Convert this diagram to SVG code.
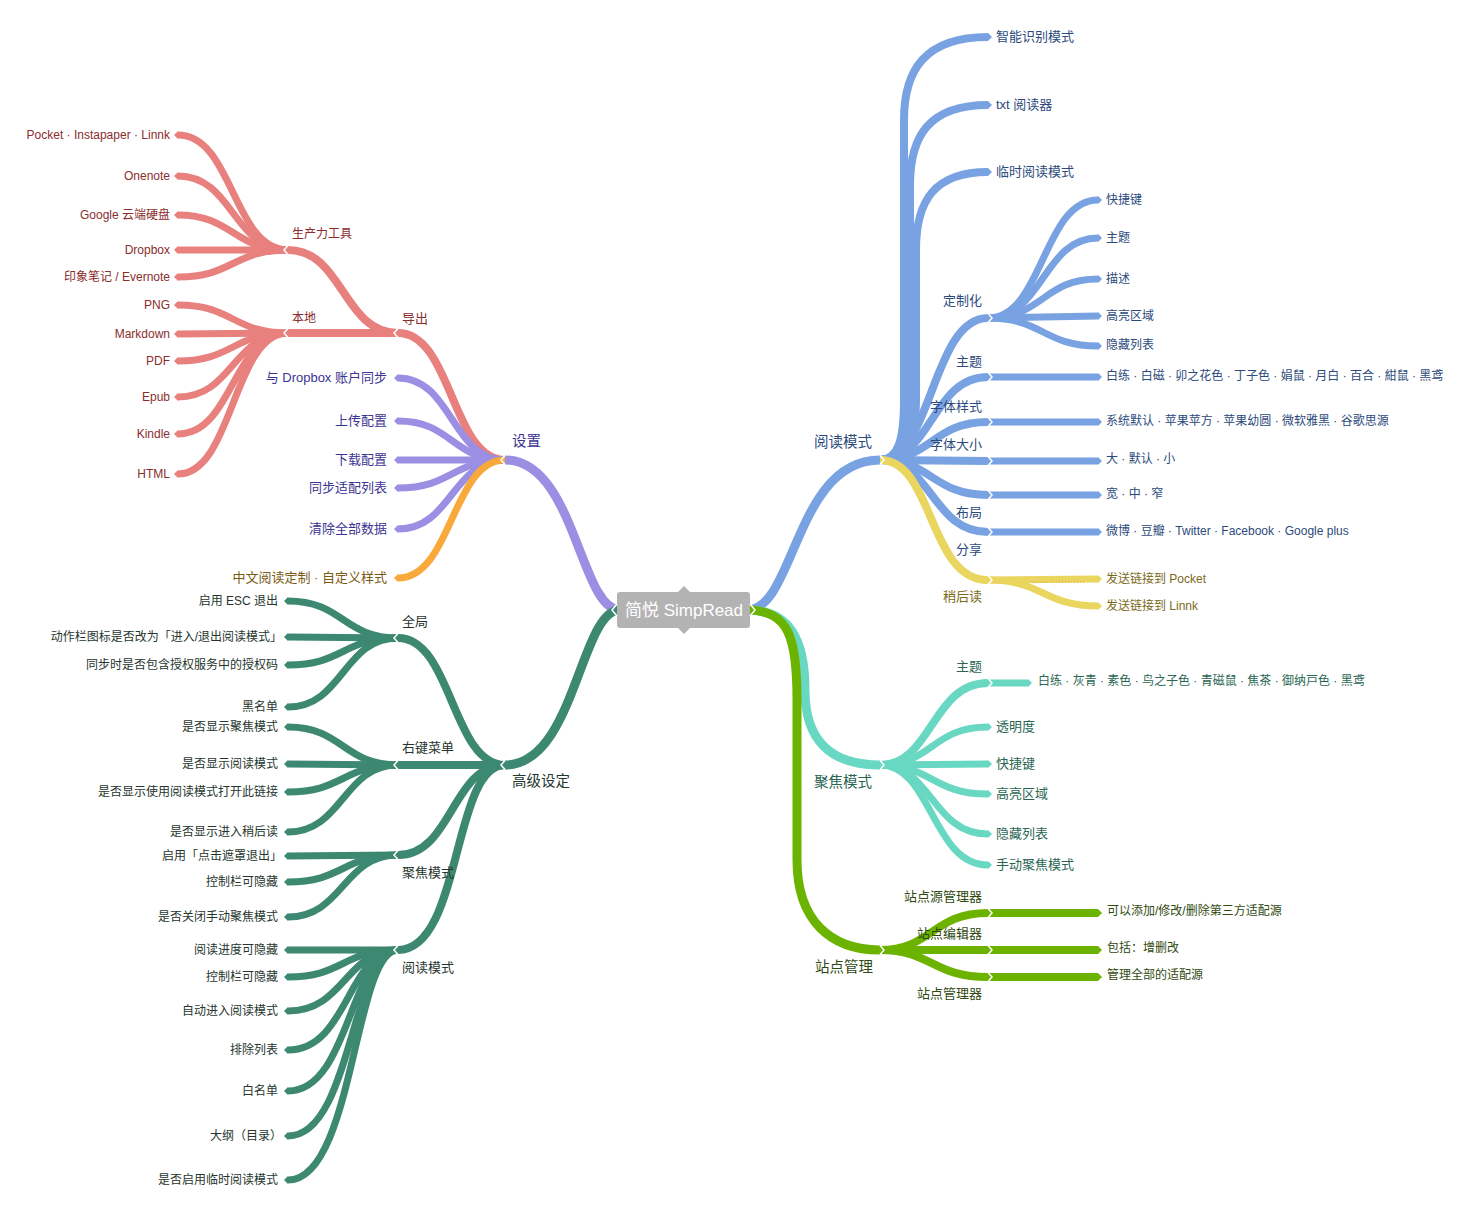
<svg xmlns="http://www.w3.org/2000/svg" width="1470" height="1221" viewBox="0 0 1470 1221">
<style>
text{font-family:"Liberation Sans","Noto Sans CJK SC",sans-serif;}
.e{fill:none;stroke-linecap:butt;stroke-linejoin:round}
.w9{stroke-width:9}.w8{stroke-width:8}.w7{stroke-width:7}
.rd{stroke:#e8807e;marker-end:url(#m-rd)}
.pu{stroke:#9a8fe3;marker-end:url(#m-pu)}
.or{stroke:#f9a83a;marker-end:url(#m-or)}
.gr{stroke:#3d8870;marker-end:url(#m-gr)}
.bl{stroke:#78a2e2;marker-end:url(#m-bl)}
.ye{stroke:#ead55f;marker-end:url(#m-ye)}
.te{stroke:#68d8c2;marker-end:url(#m-te)}
.li{stroke:#6cb300;marker-end:url(#m-li)}
.chev{fill:none;stroke:#fff;stroke-width:1.5}
.t12{font-size:12px}.t13{font-size:13px}.t14{font-size:14.5px}
.end{text-anchor:end}
.crd{fill:#8a2d2d}.cpu{fill:#3b3592}.cor{fill:#7a5a12}.cgr{fill:#26362e}
.cbl{fill:#2c4a7c}.cye{fill:#7a6a20}.cte{fill:#2a6652}.cli{fill:#2f4a10}
</style>
<defs>
<marker id="m-rd" viewBox="0 0 4 8" refX="0" refY="4" markerWidth="4" markerHeight="8" markerUnits="userSpaceOnUse" orient="auto"><path d="M0,0L4,4L0,8Z" fill="#e8807e"/></marker>
<marker id="m-pu" viewBox="0 0 4 8" refX="0" refY="4" markerWidth="4" markerHeight="8" markerUnits="userSpaceOnUse" orient="auto"><path d="M0,0L4,4L0,8Z" fill="#9a8fe3"/></marker>
<marker id="m-or" viewBox="0 0 4 8" refX="0" refY="4" markerWidth="4" markerHeight="8" markerUnits="userSpaceOnUse" orient="auto"><path d="M0,0L4,4L0,8Z" fill="#f9a83a"/></marker>
<marker id="m-gr" viewBox="0 0 4 8" refX="0" refY="4" markerWidth="4" markerHeight="8" markerUnits="userSpaceOnUse" orient="auto"><path d="M0,0L4,4L0,8Z" fill="#3d8870"/></marker>
<marker id="m-bl" viewBox="0 0 4 8" refX="0" refY="4" markerWidth="4" markerHeight="8" markerUnits="userSpaceOnUse" orient="auto"><path d="M0,0L4,4L0,8Z" fill="#78a2e2"/></marker>
<marker id="m-ye" viewBox="0 0 4 8" refX="0" refY="4" markerWidth="4" markerHeight="8" markerUnits="userSpaceOnUse" orient="auto"><path d="M0,0L4,4L0,8Z" fill="#ead55f"/></marker>
<marker id="m-te" viewBox="0 0 4 8" refX="0" refY="4" markerWidth="4" markerHeight="8" markerUnits="userSpaceOnUse" orient="auto"><path d="M0,0L4,4L0,8Z" fill="#68d8c2"/></marker>
<marker id="m-li" viewBox="0 0 4 8" refX="0" refY="4" markerWidth="4" markerHeight="8" markerUnits="userSpaceOnUse" orient="auto"><path d="M0,0L4,4L0,8Z" fill="#6cb300"/></marker>
</defs>
<rect width="1470" height="1221" fill="#fff"/>
<g id="connectors">
<!-- settings -->
<path class="e pu w9" d="M620,610 C580,610 575,460 505,460"/>
<path class="e rd w8" d="M505,460 C452,460 452,333 398,333"/>
<path class="e pu w7" d="M505,460 C452,460 452,378 398,378"/>
<path class="e pu w7" d="M505,460 C452,460 452,421 398,421"/>
<path class="e pu w7" d="M505,460 L398,460"/>
<path class="e pu w7" d="M505,460 C452,460 452,488 398,488"/>
<path class="e pu w7" d="M505,460 C452,460 452,529 398,529"/>
<path class="e or w7" d="M505,460 C452,460 452,578 398,578"/>
<path class="e rd w8" d="M398,333 C343,333 343,250 288,250"/>
<path class="e rd w8" d="M398,333 L288,333"/>
<path class="e rd w7" d="M288,250 C233,250 233,135 178,135"/>
<path class="e rd w7" d="M288,250 C233,250 233,176 178,176"/>
<path class="e rd w7" d="M288,250 C233,250 233,215 178,215"/>
<path class="e rd w7" d="M288,250 L178,250"/>
<path class="e rd w7" d="M288,250 C233,250 233,277 178,277"/>
<path class="e rd w7" d="M288,333 C233,333 233,305 178,305"/>
<path class="e rd w7" d="M288,333 L178,334"/>
<path class="e rd w7" d="M288,333 C233,333 233,361 178,361"/>
<path class="e rd w7" d="M288,333 C233,333 233,397 178,397"/>
<path class="e rd w7" d="M288,333 C233,333 233,434 178,434"/>
<path class="e rd w7" d="M288,333 C233,333 233,474 178,474"/>
<!-- advanced -->
<path class="e gr w9" d="M620,610 C580,610 575,765 505,765"/>
<path class="e gr w8" d="M505,765 C452,765 452,638 398,638"/>
<path class="e gr w8" d="M505,765 L398,765"/>
<path class="e gr w8" d="M505,765 C452,765 452,855 398,855"/>
<path class="e gr w8" d="M505,765 C452,765 462,950 398,950"/>
<path class="e gr w7" d="M398,638 C343,638 343,601 288,601"/>
<path class="e gr w7" d="M398,638 L288,637"/>
<path class="e gr w7" d="M398,638 C343,638 343,665 288,665"/>
<path class="e gr w7" d="M398,638 C343,638 343,707 288,707"/>
<path class="e gr w7" d="M398,765 C343,765 343,727 288,727"/>
<path class="e gr w7" d="M398,765 L288,764"/>
<path class="e gr w7" d="M398,765 C343,765 343,792 288,792"/>
<path class="e gr w7" d="M398,765 C343,765 343,832 288,832"/>
<path class="e gr w7" d="M398,855 L288,856"/>
<path class="e gr w7" d="M398,855 C343,855 343,882 288,882"/>
<path class="e gr w7" d="M398,855 C343,855 343,917 288,917"/>
<path class="e gr w7" d="M398,950 L288,950"/>
<path class="e gr w7" d="M398,950 C343,950 343,977 288,977"/>
<path class="e gr w7" d="M398,950 C345,950 345,1011 288,1011"/>
<path class="e gr w7" d="M398,950 C348,950 348,1050 288,1050"/>
<path class="e gr w7" d="M398,950 C350,950 350,1091 288,1091"/>
<path class="e gr w7" d="M398,950 C352,950 352,1136 288,1136"/>
<path class="e gr w7" d="M398,950 C354,950 354,1180 288,1180"/>
<!-- reading mode -->
<path class="e bl w9" d="M747,610 C795,610 795,460 880,460"/>
<path class="e bl w8" d="M880,460 C898,460 904,440 904,400 L904,120 C904,70 925,37 988,37"/>
<path class="e bl w8" d="M880,460 C900,460 910,440 910,400 L910,185 C910,135 930,105 988,105"/>
<path class="e bl w8" d="M880,460 C902,460 916,440 916,400 L916,250 C916,200 935,172 988,172"/>
<path class="e bl w8" d="M880,460 C932,460 932,318 988,318"/>
<path class="e bl w8" d="M880,460 C932,460 932,377 988,377"/>
<path class="e bl w8" d="M880,460 C932,460 932,422 988,422"/>
<path class="e bl w8" d="M880,460 L988,461"/>
<path class="e bl w8" d="M880,460 C932,460 932,495 988,495"/>
<path class="e bl w8" d="M880,460 C932,460 932,532 988,532"/>
<path class="e ye w8" d="M880,460 C934,460 928,580 988,580"/>
<path class="e bl w7" d="M988,318 C1043,318 1043,200 1098,200"/>
<path class="e bl w7" d="M988,318 C1043,318 1043,238 1098,238"/>
<path class="e bl w7" d="M988,318 C1043,318 1043,279 1098,279"/>
<path class="e bl w7" d="M988,318 L1098,316"/>
<path class="e bl w7" d="M988,318 C1043,318 1043,346 1098,346"/>
<path class="e bl w7" d="M988,377 L1098,377"/>
<path class="e bl w7" d="M988,422 L1098,422"/>
<path class="e bl w7" d="M988,461 L1098,461"/>
<path class="e bl w7" d="M988,495 L1098,495"/>
<path class="e bl w7" d="M988,532 L1098,532"/>
<path class="e ye w7" d="M988,580 L1098,579"/>
<path class="e ye w7" d="M988,580 C1043,580 1043,606 1098,606"/>
<path d="M1032,582 L1084,582" stroke="#f3a040" stroke-width="1" stroke-dasharray="1 2" fill="none"/>
<!-- focus mode -->
<path class="e te w9" d="M747,610 C790,610 805,640 805,690 C805,740 830,765 880,765"/>
<path class="e te w8" d="M880,765 C932,765 932,683 988,683"/>
<path class="e te w7" d="M880,765 C932,765 932,727 988,727"/>
<path class="e te w7" d="M880,765 L988,764"/>
<path class="e te w7" d="M880,765 C932,765 932,794 988,794"/>
<path class="e te w7" d="M880,765 C932,765 932,834 988,834"/>
<path class="e te w7" d="M880,765 C932,765 932,865 988,865"/>
<path class="e te w7" d="M988,683 L1028,683"/>
<!-- site management -->
<path class="e li w9" d="M747,610 C790,610 797,640 797,700 L797,860 C797,920 830,950 880,950"/>
<path class="e li w8" d="M880,950 C932,950 932,913 988,913"/>
<path class="e li w8" d="M880,950 L988,950"/>
<path class="e li w8" d="M880,950 C932,950 932,977 988,977"/>
<path class="e li w8" d="M988,913 L1098,913"/>
<path class="e li w8" d="M988,950 L1098,950"/>
<path class="e li w8" d="M988,977 L1098,977"/>
<!-- hub notches -->
<path class="chev" d="M505,455.5L501,460L505,464.5"/>
<path class="chev" d="M398,328.5L394,333L398,337.5"/>
<path class="chev" d="M288,245.5L284,250L288,254.5"/>
<path class="chev" d="M288,328.5L284,333L288,337.5"/>
<path class="chev" d="M505,760.5L501,765L505,769.5"/>
<path class="chev" d="M398,633.5L394,638L398,642.5"/>
<path class="chev" d="M398,760.5L394,765L398,769.5"/>
<path class="chev" d="M398,850.5L394,855L398,859.5"/>
<path class="chev" d="M398,945.5L394,950L398,954.5"/>
<path class="chev" d="M880,455.5L884,460L880,464.5"/>
<path class="chev" d="M988,313.5L992,318L988,322.5"/>
<path class="chev" d="M988,372.5L992,377L988,381.5"/>
<path class="chev" d="M988,417.5L992,422L988,426.5"/>
<path class="chev" d="M988,456.5L992,461L988,465.5"/>
<path class="chev" d="M988,490.5L992,495L988,499.5"/>
<path class="chev" d="M988,527.5L992,532L988,536.5"/>
<path class="chev" d="M988,575.5L992,580L988,584.5"/>
<path class="chev" d="M880,760.5L884,765L880,769.5"/>
<path class="chev" d="M988,678.5L992,683L988,687.5"/>
<path class="chev" d="M880,945.5L884,950L880,954.5"/>
<path class="chev" d="M988,908.5L992,913L988,917.5"/>
<path class="chev" d="M988,945.5L992,950L988,954.5"/>
<path class="chev" d="M988,972.5L992,977L988,981.5"/>
</g>
<g id="n-root">
<path d="M620,592 L678,592 L684,586 L690,592 L747,592 Q750,592 750,595 L750,625 Q750,628 747,628 L690,628 L684,634 L678,628 L620,628 Q617,628 617,625 L617,595 Q617,592 620,592 Z" fill="#b3b3b3"/>
<path class="chev" stroke-width="2" d="M617,604L612,610L617,616"/>
<path class="chev" stroke-width="2" d="M750,604L755,610L750,616"/>
<text x="684" y="616" text-anchor="middle" font-size="17" fill="#fff">简悦 SimpRead</text>
</g>
<g id="n-settings" class="cpu">
<text x="512" y="446" class="t14">设置</text>
<text x="387" y="382" class="t13 end">与 Dropbox 账户同步</text>
<text x="387" y="425" class="t13 end">上传配置</text>
<text x="387" y="464" class="t13 end">下载配置</text>
<text x="387" y="492" class="t13 end">同步适配列表</text>
<text x="387" y="533" class="t13 end">清除全部数据</text>
</g>
<g id="n-style"><text x="387" y="582" class="t13 end cor">中文阅读定制 · 自定义样式</text></g>
<g id="n-export" class="crd">
<text x="402" y="323" class="t13">导出</text>
<text x="292" y="238" class="t12">生产力工具</text>
<text x="292" y="322" class="t12">本地</text>
<text x="170" y="139" class="t12 end">Pocket · Instapaper · Linnk</text>
<text x="170" y="180" class="t12 end">Onenote</text>
<text x="170" y="219" class="t12 end">Google 云端硬盘</text>
<text x="170" y="254" class="t12 end">Dropbox</text>
<text x="170" y="281" class="t12 end">印象笔记 / Evernote</text>
<text x="170" y="309" class="t12 end">PNG</text>
<text x="170" y="338" class="t12 end">Markdown</text>
<text x="170" y="365" class="t12 end">PDF</text>
<text x="170" y="401" class="t12 end">Epub</text>
<text x="170" y="438" class="t12 end">Kindle</text>
<text x="170" y="478" class="t12 end">HTML</text>
</g>
<g id="n-advanced" class="cgr">
<text x="512" y="786" class="t14">高级设定</text>
<text x="402" y="626" class="t13">全局</text>
<text x="402" y="752" class="t13">右键菜单</text>
<text x="402" y="877" class="t13">聚焦模式</text>
<text x="402" y="972" class="t13">阅读模式</text>
<text x="278" y="605" class="t12 end">启用 ESC 退出</text>
<text x="282" y="641" class="t12 end">动作栏图标是否改为「进入/退出阅读模式」</text>
<text x="278" y="669" class="t12 end">同步时是否包含授权服务中的授权码</text>
<text x="278" y="711" class="t12 end">黑名单</text>
<text x="278" y="731" class="t12 end">是否显示聚焦模式</text>
<text x="278" y="768" class="t12 end">是否显示阅读模式</text>
<text x="278" y="796" class="t12 end">是否显示使用阅读模式打开此链接</text>
<text x="278" y="836" class="t12 end">是否显示进入稍后读</text>
<text x="282" y="860" class="t12 end">启用「点击遮罩退出」</text>
<text x="278" y="886" class="t12 end">控制栏可隐藏</text>
<text x="278" y="921" class="t12 end">是否关闭手动聚焦模式</text>
<text x="278" y="954" class="t12 end">阅读进度可隐藏</text>
<text x="278" y="981" class="t12 end">控制栏可隐藏</text>
<text x="278" y="1015" class="t12 end">自动进入阅读模式</text>
<text x="278" y="1054" class="t12 end">排除列表</text>
<text x="278" y="1095" class="t12 end">白名单</text>
<text x="282" y="1140" class="t12 end">大纲（目录）</text>
<text x="278" y="1184" class="t12 end">是否启用临时阅读模式</text>
</g>
<g id="n-reading" class="cbl">
<text x="872" y="447" class="t14 end">阅读模式</text>
<text x="996" y="41" class="t13">智能识别模式</text>
<text x="996" y="109" class="t13">txt 阅读器</text>
<text x="996" y="176" class="t13">临时阅读模式</text>
<text x="982" y="305" class="t13 end">定制化</text>
<text x="982" y="366" class="t13 end">主题</text>
<text x="982" y="411" class="t13 end">字体样式</text>
<text x="982" y="449" class="t13 end">字体大小</text>
<text x="982" y="517" class="t13 end">布局</text>
<text x="982" y="554" class="t13 end">分享</text>
<text x="1106" y="204" class="t12">快捷键</text>
<text x="1106" y="242" class="t12">主题</text>
<text x="1106" y="283" class="t12">描述</text>
<text x="1106" y="320" class="t12">高亮区域</text>
<text x="1106" y="349" class="t12">隐藏列表</text>
<text x="1106" y="380" class="t12">白练 · 白磁 · 卯之花色 · 丁子色 · 娟鼠 · 月白 · 百合 · 紺鼠 · 黑鸢</text>
<text x="1106" y="425" class="t12">系统默认 · 苹果苹方 · 苹果幼圆 · 微软雅黑 · 谷歌思源</text>
<text x="1106" y="463" class="t12">大 · 默认 · 小</text>
<text x="1106" y="498" class="t12">宽 · 中 · 窄</text>
<text x="1106" y="535" class="t12">微博 · 豆瓣 · Twitter · Facebook · Google plus</text>
</g>
<g id="n-later" class="cye">
<text x="982" y="601" class="t13 end">稍后读</text>
<text x="1106" y="583" class="t12">发送链接到 Pocket</text>
<text x="1106" y="610" class="t12">发送链接到 Linnk</text>
</g>
<g id="n-focus" class="cte">
<text x="872" y="787" class="t14 end">聚焦模式</text>
<text x="982" y="671" class="t13 end">主题</text>
<text x="1038" y="685" class="t12">白练 · 灰青 · 素色 · 鸟之子色 · 青磁鼠 · 焦茶 · 御纳戸色 · 黑鸢</text>
<text x="996" y="731" class="t13">透明度</text>
<text x="996" y="768" class="t13">快捷键</text>
<text x="996" y="798" class="t13">高亮区域</text>
<text x="996" y="838" class="t13">隐藏列表</text>
<text x="996" y="869" class="t13">手动聚焦模式</text>
</g>
<g id="n-site" class="cli">
<text x="873" y="972" class="t14 end">站点管理</text>
<text x="982" y="901" class="t13 end">站点源管理器</text>
<text x="982" y="938" class="t13 end">站点编辑器</text>
<text x="982" y="998" class="t13 end">站点管理器</text>
<text x="1107" y="915" class="t12">可以添加/修改/删除第三方适配源</text>
<text x="1107" y="952" class="t12">包括：增删改</text>
<text x="1107" y="979" class="t12">管理全部的适配源</text>
</g>
</svg>
